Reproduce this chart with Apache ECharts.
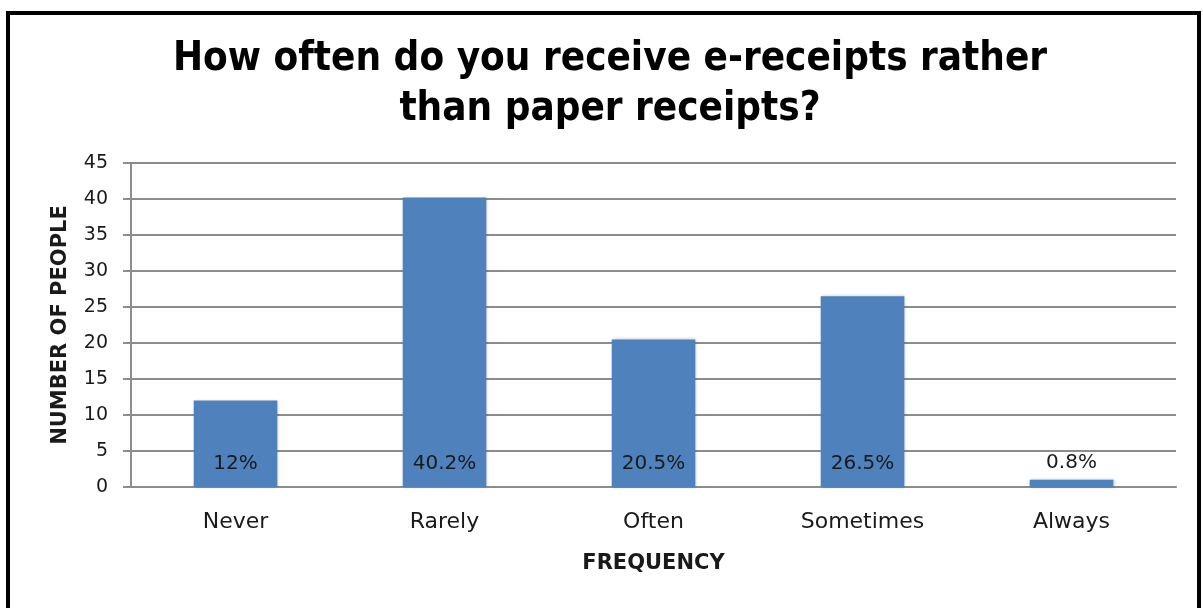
<!DOCTYPE html>
<html>
<head>
<meta charset="utf-8">
<script src="https://cdn.jsdelivr.net/npm/echarts@6/dist/echarts.min.js"></script>
<style>
  html, body { margin: 0; padding: 0; background: #fff; }
  #chart { width: 1203px; height: 608px; }
</style>
</head>
<body>
<div id="chart"></div>
<script>
// data
var categories = ['Never', 'Rarely', 'Often', 'Sometimes', 'Always'];
var people = [12, 40.2, 20.5, 26.5, 1];
var percentLabels = ['12%', '40.2%', '20.5%', '26.5%', '0.8%'];
var yTicks = { min: 0, max: 45, interval: 5 };

var myChart = echarts.init(document.getElementById('chart'));

var barData = people.map(function (v, i) {
    var small = v < 5;
    return {
        value: v,
        label: {
            show: true,
            formatter: percentLabels[i],
            position: small ? 'top' : 'insideBottom',
            distance: small ? 7 : 13
        }
    };
});

var option = {
    backgroundColor: '#ffffff',
    animation: false,
    title: {
        text: 'How often do you receive e-receipts rather\nthan paper receipts?',
        left: 605,
        top: 30,
        textAlign: 'center',
        textStyle: {
            fontFamily: 'DejaVu Sans Condensed',
            fontWeight: 'bold',
            fontSize: 40,
            lineHeight: 50,
            color: '#000'
        }
    },
    grid: {
        left: 131,
        right: 27,
        top: 163,
        bottom: 121,
        containLabel: false
    },
    xAxis: {
        type: 'category',
        data: categories,
        name: 'FREQUENCY',
        nameLocation: 'middle',
        nameGap: 66,
        nameTextStyle: {
            fontFamily: 'DejaVu Sans',
            fontWeight: 'bold',
            fontSize: 21,
            color: '#1a1a1a'
        },
        axisLine: { lineStyle: { color: '#8c8c8c', width: 2 } },
        axisTick: { show: false },
        axisLabel: {
            margin: 24,
            fontFamily: 'DejaVu Sans',
            fontSize: 22,
            color: '#1a1a1a'
        }
    },
    yAxis: {
        type: 'value',
        min: yTicks.min,
        max: yTicks.max,
        interval: yTicks.interval,
        name: 'NUMBER OF PEOPLE',
        nameLocation: 'middle',
        nameGap: 60,
        nameRotate: 90,
        nameTextStyle: {
            fontFamily: 'DejaVu Sans',
            fontWeight: 'bold',
            fontSize: 21,
            color: '#1a1a1a'
        },
        axisLine: { show: true, lineStyle: { color: '#8c8c8c', width: 2 } },
        axisTick: { show: true, inside: false, length: 8, lineStyle: { color: '#8c8c8c', width: 2 } },
        splitLine: { show: true, lineStyle: { color: '#8c8c8c', width: 2 } },
        axisLabel: {
            margin: 23,
            fontFamily: 'DejaVu Sans',
            fontSize: 19,
            color: '#1a1a1a'
        }
    },
    series: [{
        type: 'bar',
        data: barData,
        barWidth: '40%',
        itemStyle: {
            color: '#4f81bd',
            shadowColor: 'rgba(0,0,0,0.25)',
            shadowBlur: 3,
            shadowOffsetX: 1,
            shadowOffsetY: 0
        },
        label: {
            fontFamily: 'DejaVu Sans',
            fontSize: 20,
            color: '#1a1a1a'
        }
    }],
    graphic: [
        { type: 'rect', shape: { x: 8, y: 13, width: 1191, height: 620 },
          style: { fill: 'none', stroke: '#000', lineWidth: 4 } }
    ]
};

myChart.setOption(option);
</script>
</body>
</html>
